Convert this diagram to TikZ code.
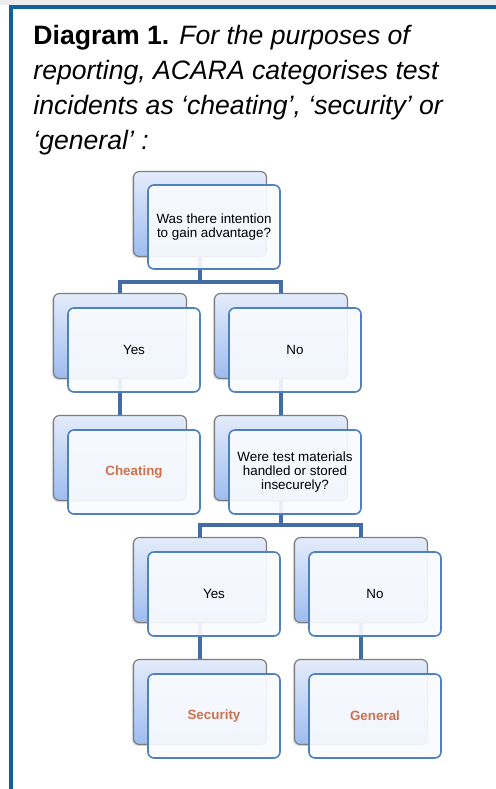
\documentclass[tikz,border=0pt]{standalone}
\usepackage{fontspec}
\setmainfont{Liberation Sans}
\usepackage{xcolor}
\usetikzlibrary{shadows,backgrounds}
\definecolor{frameblue}{RGB}{14,96,158}
\definecolor{linkblue}{RGB}{68,108,164}
\definecolor{boxblue}{RGB}{79,129,189}
\definecolor{boxgray}{RGB}{125,125,125}
\definecolor{shadetop}{RGB}{228,236,251}
\definecolor{shadebot}{RGB}{158,188,240}
\definecolor{frontfill}{RGB}{249,251,254}
\definecolor{resorange}{RGB}{204,114,76}
\definecolor{stripgray}{RGB}{236,236,236}
\begin{document}
\begin{tikzpicture}[x=0.5pt,y=-0.5pt,
  backbox/.style={draw=boxgray, line width=0.6pt, rounded corners=3pt,
    minimum width=66.5pt, minimum height=42.5pt,
    top color=shadetop, bottom color=shadebot,
    drop shadow={shadow xshift=-0.8pt, shadow yshift=-0.8pt, opacity=0.25}},
  frontbox/.style={draw=boxblue, line width=0.8pt, rounded corners=3pt,
    minimum width=66pt, minimum height=42pt, inner sep=1pt,
    fill=frontfill, fill opacity=0.92, text opacity=1, align=center,
    font=\fontsize{6.7}{6.8}\selectfont},
  result/.style={text=resorange, font=\fontsize{6.7}{6.8}\selectfont\bfseries},
  link/.style={draw=linkblue, line width=2.4pt}]
\useasboundingbox (0,0) rectangle (496,789);
\fill[stripgray] (0,0) rectangle (496,5);
\draw[frameblue, line width=2pt] (11,789) -- (11,7) -- (496,7);
\node[anchor=north west, align=left, inner sep=0pt, font=\fontsize{13.3}{17.5}\selectfont] (title) at (33,25)
  {\textbf{Diagram 1.} \textit{For the purposes of}\\
   \textit{reporting, ACARA categorises test}\\
   \textit{incidents as ‘cheating’, ‘security’ or}\\
   \textit{‘general’ :}};
\node[backbox] (q1back) at (200,214) {};
\node[frontbox] (q1) at (214,227) {Was there intention\\to gain advantage?};
\node[backbox] (y1back) at (120,336) {};
\node[frontbox] (y1) at (134,350) {Yes};
\node[backbox] (n1back) at (281,336) {};
\node[frontbox] (n1) at (295,350) {No};
\node[backbox] (cheatback) at (120,458) {};
\node[frontbox,result] (cheat) at (134,472) {Cheating};
\node[backbox] (q2back) at (281,458) {};
\node[frontbox] (q2) at (295,472) {Were test materials\\handled or stored\\insecurely?};
\node[backbox] (y2back) at (200,580) {};
\node[frontbox] (y2) at (214,594) {Yes};
\node[backbox] (n2back) at (361,580) {};
\node[frontbox] (n2) at (375,594) {No};
\node[backbox] (secback) at (200,702) {};
\node[frontbox,result] (sec) at (214,716) {Security};
\node[backbox] (genback) at (361,702) {};
\node[frontbox,result] (gen) at (375,716) {General};
\coordinate (fork1) at (200,282);
\coordinate (fork2) at (281,525);
\begin{scope}[on background layer]
\fill[white] (0,5) rectangle (496,789);
\draw[link] (q1back.center) -- (fork1) -| (y1back.center);
\draw[link] (fork1) -| (n1back.center);
\draw[link] (y1back) -- (cheatback);
\draw[link] (n1back) -- (q2back);
\draw[link] (q2back.center) -- (fork2) -| (y2back.center);
\draw[link] (fork2) -| (n2back.center);
\draw[link] (y2back) -- (secback);
\draw[link] (n2back) -- (genback);
\end{scope}
\end{tikzpicture}
\end{document}
